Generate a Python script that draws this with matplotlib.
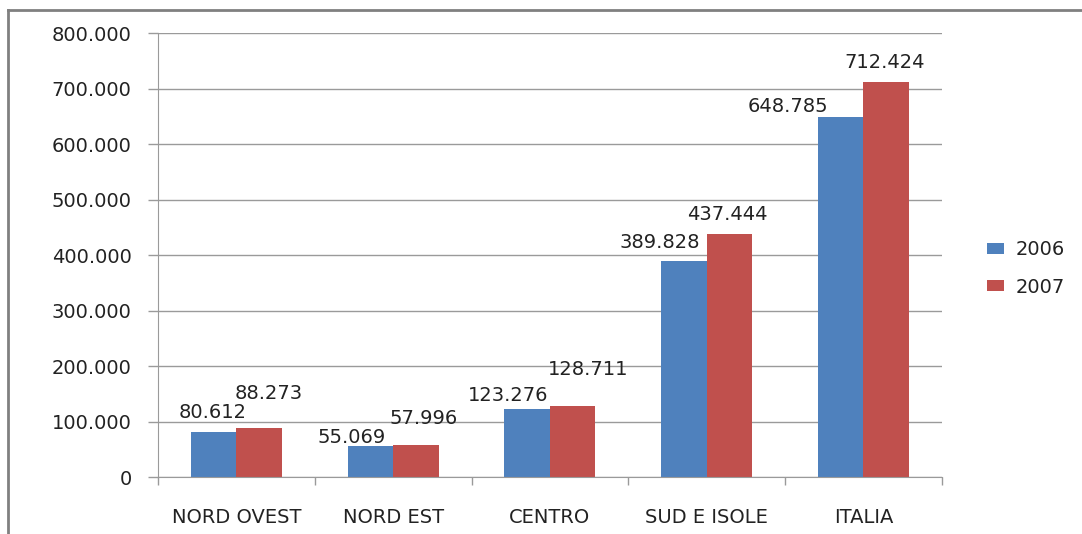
import matplotlib.pyplot as plt
import numpy as np
from matplotlib.lines import Line2D
from matplotlib.ticker import FuncFormatter

# data
categories = ['NORD OVEST', 'NORD EST', 'CENTRO', 'SUD E ISOLE', 'ITALIA']
series_names = ['2006', '2007']
values_2006 = [80612, 55069, 123276, 389828, 648785]
values_2007 = [88273, 57996, 128711, 437444, 712424]
label_2006 = ['80.612', '55.069', '123.276', '389.828', '648.785']
label_2007 = ['88.273', '57.996', '128.711', '437.444', '712.424']

# label offsets (pixels) as placed in the original chart
off_2006 = [(-1, 14), (-19, 3), (-19, 8), (-24, 13), (-53, 5)]
off_2007 = [(10, 29), (8, 21), (15, 31), (-2, 14), (-2, 14)]

blue = '#4F81BD'
red = '#C0504D'
grid_col = '#9a9a9a'
txt_col = '#222222'
fs = 14

fig = plt.figure(figsize=(10.82, 5.34), dpi=100)
ax = fig.add_axes([0.146, 0.1067, 0.7245, 0.8315])

x = np.arange(len(categories))
w = 0.29
b1 = ax.bar(x - w / 2, values_2006, w, color=blue, label=series_names[0])
b2 = ax.bar(x + w / 2, values_2007, w, color=red, label=series_names[1])

for bars, labels, offs in [(b1, label_2006, off_2006), (b2, label_2007, off_2007)]:
    for bar, lab, (dx, dy) in zip(bars, labels, offs):
        ax.annotate(lab, (bar.get_x() + bar.get_width() / 2, bar.get_height()),
                    xytext=(dx, dy), textcoords='offset pixels',
                    ha='center', va='baseline', fontsize=fs, color=txt_col)

ax.set_xlim(-0.5, len(categories) - 0.5)
ax.set_ylim(0, 800000)
ax.set_yticks(np.arange(0, 800001, 100000))
ax.yaxis.set_major_formatter(FuncFormatter(
    lambda v, p: '0' if v == 0 else f'{int(v):,}'.replace(',', '.')))
ax.yaxis.grid(True, color=grid_col, linewidth=1)
ax.set_axisbelow(True)

# category boundaries as major ticks, names on minor ticks
ax.set_xticks(np.arange(-0.5, len(categories), 1))
ax.set_xticklabels([])
ax.set_xticks(x, minor=True)
ax.set_xticklabels(categories, minor=True)
ax.tick_params(axis='x', which='major', length=6, color=grid_col, width=1)
ax.tick_params(axis='x', which='minor', length=0, pad=22, labelsize=fs, labelcolor=txt_col)
ax.tick_params(axis='y', length=7, color=grid_col, width=1, pad=12,
               labelsize=fs, labelcolor=txt_col)

for s in ['top', 'right']:
    ax.spines[s].set_visible(False)
ax.spines['left'].set_color(grid_col)
ax.spines['bottom'].set_color(grid_col)

ax.legend(loc='center left', bbox_to_anchor=(0.896, 0.497), bbox_transform=fig.transFigure,
          frameon=False, fontsize=fs, handlelength=0.87, handleheight=0.5,
          handletextpad=0.6, labelspacing=0.95, labelcolor=txt_col)

# outer frame (left and top edges visible)
fig.add_artist(Line2D([0.0074, 0.0074], [0.0, 0.981], transform=fig.transFigure,
                      color='#808080', linewidth=2))
fig.add_artist(Line2D([0.0074, 1.0], [0.981, 0.981], transform=fig.transFigure,
                      color='#808080', linewidth=2))

fig.savefig('out.png', dpi=100)
